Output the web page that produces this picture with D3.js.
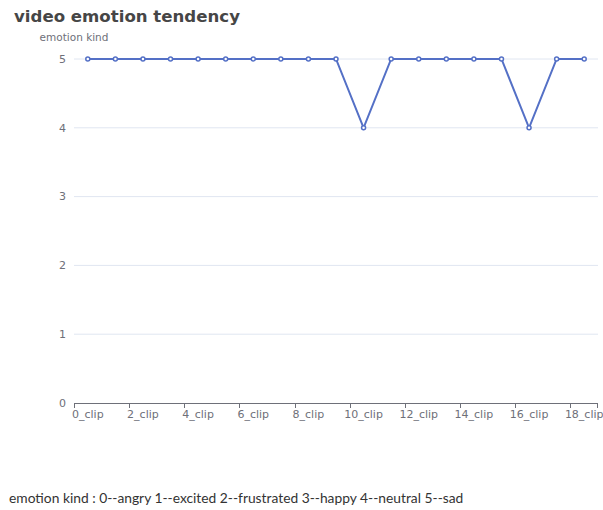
<!DOCTYPE html>
<html>
<head>
<meta charset="utf-8">
<script src="https://cdn.jsdelivr.net/npm/d3@7"></script>
<style>
  body { margin: 0; background: #fff; }
  .footer { position: absolute; left: 9px; top: 489px; font-family: Lato, sans-serif; font-size: 13.8px; color: #333; }
</style>
</head>
<body>
<div id="chart"></div>
<div class="footer">emotion kind : 0--angry 1--excited 2--frustrated 3--happy 4--neutral 5--sad</div>
<script>
// clip names and emotion value per clip
var clips = ["0_clip", "1_clip", "2_clip", "3_clip", "4_clip", "5_clip", "6_clip", "7_clip", "8_clip", "9_clip",
    "10_clip", "11_clip", "12_clip", "13_clip", "14_clip", "15_clip", "16_clip", "17_clip", "18_clip"];
var emotions = [5, 5, 5, 5, 5, 5, 5, 5, 5, 5, 4, 5, 5, 5, 5, 5, 4, 5, 5];
var yTicks = [0, 1, 2, 3, 4, 5];

var svgWidth = 603;
var svgHeight = 480;

var margin = { top: 59, right: 5, bottom: 77, left: 74 };
var width = 598 - margin.left;
var height = 403 - margin.top;

var svg = d3.select("#chart")
    .append("svg")
    .attr("width", svgWidth)
    .attr("height", svgHeight);

svg.append("text")
    .attr("x", 14)
    .attr("y", 22)
    .attr("font-family", "'DejaVu Sans', sans-serif")
    .attr("font-weight", "bold")
    .attr("font-size", "16.6px")
    .attr("fill", "#464646")
    .text("video emotion tendency");

var chartGroup = svg.append("g")
    .attr("transform", `translate(${margin.left}, ${margin.top})`);

var xBand = d3.scaleBand()
    .domain(clips)
    .range([0, width]);

var yScale = d3.scaleLinear()
    .domain([0, 5])
    .range([height, 0]);

// grid lines
chartGroup.selectAll(".grid")
    .data(yTicks.filter(d => d > 0))
    .enter()
    .append("line")
    .attr("x1", 0)
    .attr("x2", width)
    .attr("y1", d => yScale(d))
    .attr("y2", d => yScale(d))
    .attr("stroke", "#e0e6f1")
    .attr("stroke-width", 1);

// y labels
chartGroup.selectAll(".ylab")
    .data(yTicks)
    .enter()
    .append("text")
    .attr("x", -8)
    .attr("y", d => yScale(d))
    .attr("dy", "0.35em")
    .attr("text-anchor", "end")
    .attr("font-family", "'DejaVu Sans', sans-serif")
    .attr("font-size", "11px")
    .attr("fill", "#6e7079")
    .text(d => d);

chartGroup.append("text")
    .attr("x", 0)
    .attr("y", -18)
    .attr("text-anchor", "middle")
    .attr("font-family", "'DejaVu Sans', sans-serif")
    .attr("font-size", "10.5px")
    .attr("fill", "#6e7079")
    .text("emotion kind");

// x axis line and ticks at every second band boundary
chartGroup.append("line")
    .attr("x1", 0)
    .attr("x2", width)
    .attr("y1", height + 0.5)
    .attr("y2", height + 0.5)
    .attr("stroke", "#6e7079");

var tickClips = clips.filter((d, i) => i % 2 == 0);
chartGroup.selectAll(".xtick")
    .data(tickClips)
    .enter()
    .append("line")
    .attr("x1", d => Math.round(xBand(d)) + 0.5)
    .attr("x2", d => Math.round(xBand(d)) + 0.5)
    .attr("y1", height)
    .attr("y2", height + 5)
    .attr("stroke", "#6e7079");

chartGroup.append("line")
    .attr("x1", width - 0.5)
    .attr("x2", width - 0.5)
    .attr("y1", height)
    .attr("y2", height + 5)
    .attr("stroke", "#6e7079");

chartGroup.selectAll(".xlab")
    .data(tickClips)
    .enter()
    .append("text")
    .attr("x", d => xBand(d) + xBand.bandwidth() / 2)
    .attr("y", height + 15)
    .attr("text-anchor", "middle")
    .attr("font-family", "'DejaVu Sans', sans-serif")
    .attr("font-size", "11px")
    .attr("fill", "#6e7079")
    .text(d => d);

// the line
var line = d3.line()
    .x((d, i) => xBand(clips[i]) + xBand.bandwidth() / 2)
    .y(d => yScale(d));

chartGroup.append("path")
    .datum(emotions)
    .attr("d", line)
    .attr("fill", "none")
    .attr("stroke", "#5470c6")
    .attr("stroke-width", 2);

chartGroup.selectAll(".pt")
    .data(emotions)
    .enter()
    .append("circle")
    .attr("cx", (d, i) => xBand(clips[i]) + xBand.bandwidth() / 2)
    .attr("cy", d => yScale(d))
    .attr("r", 2)
    .attr("fill", "#fff")
    .attr("stroke", "#5470c6")
    .attr("stroke-width", 1.5);
</script>
</body>
</html>
